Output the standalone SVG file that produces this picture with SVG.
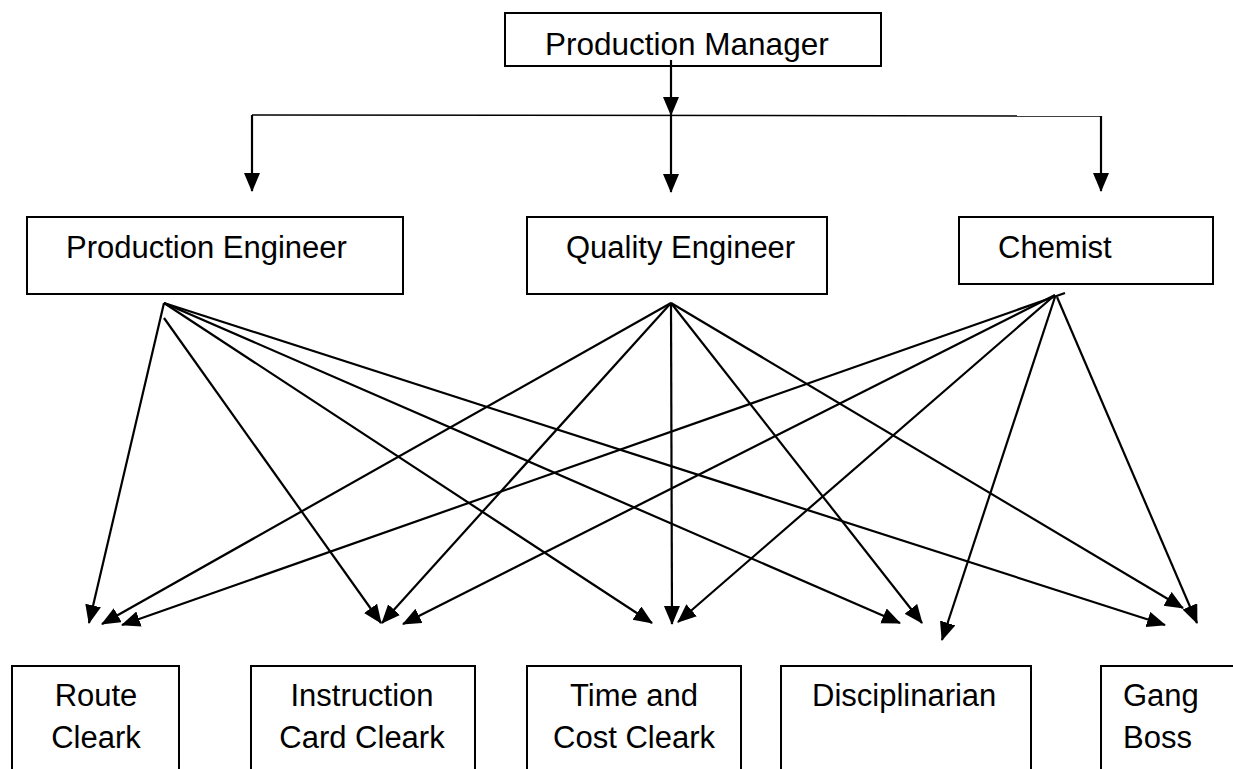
<svg xmlns="http://www.w3.org/2000/svg" width="1233" height="769" viewBox="0 0 1233 769">
<style>
rect{fill:#fff;stroke:#000;stroke-width:2}
text{font-family:"Liberation Sans",Arial,sans-serif;font-size:31px;fill:#000}
.c line{stroke:#000;stroke-width:2.2}
.c line.a{marker-end:url(#ah)}
</style>
<defs>
<marker id="ah" markerUnits="userSpaceOnUse" markerWidth="20" markerHeight="18" viewBox="0 0 20 18" refX="18" refY="8" orient="auto">
<path d="M0,0 L19,8 L0,16 z" fill="#000"/>
</marker>
</defs>
<g id="pm"><rect x="505" y="13" width="376" height="53"/><text x="545" y="55" style="font-size:31.5px">Production Manager</text></g>
<g id="pe"><rect x="27" y="217" width="376" height="77"/><text x="66" y="258">Production Engineer</text></g>
<g id="qe"><rect x="527" y="217" width="300" height="77"/><text x="566" y="258">Quality Engineer</text></g>
<g id="ch"><rect x="959" y="217" width="254" height="67"/><text x="998" y="258">Chemist</text></g>
<g id="route"><rect x="12" y="666" width="167" height="120"/><text x="96" y="706" text-anchor="middle">Route</text><text x="96" y="748" text-anchor="middle">Cleark</text></g>
<g id="instr"><rect x="251" y="666" width="224" height="120"/><text x="362" y="706" text-anchor="middle">Instruction</text><text x="362" y="748" text-anchor="middle">Card Cleark</text></g>
<g id="time"><rect x="527" y="666" width="214" height="120"/><text x="634" y="706" text-anchor="middle">Time and</text><text x="634" y="748" text-anchor="middle">Cost Cleark</text></g>
<g id="disc"><rect x="781" y="666" width="250" height="120"/><text x="812" y="706">Disciplinarian</text></g>
<g id="gang"><rect x="1101" y="666" width="160" height="120"/><text x="1123" y="706">Gang</text><text x="1123" y="748">Boss</text></g>
<g class="c" id="connectors">
<line class="a" x1="671" y1="60" x2="671" y2="115"/>
<line x1="252" y1="115" x2="1101" y2="116" style="stroke-width:1.5"/>
<line class="a" x1="252" y1="115" x2="252" y2="191"/>
<line class="a" x1="671" y1="115" x2="671" y2="192"/>
<line class="a" x1="1101" y1="116" x2="1101" y2="191"/>
<line class="a" x1="164" y1="303" x2="89" y2="623"/>
<line class="a" x1="164" y1="318" x2="381" y2="623"/>
<line class="a" x1="164" y1="303" x2="652" y2="623"/>
<line class="a" x1="164" y1="303" x2="900" y2="623"/>
<line class="a" x1="164" y1="303" x2="1165" y2="625"/>
<line class="a" x1="671" y1="303" x2="102" y2="624"/>
<line class="a" x1="671" y1="303" x2="382" y2="623"/>
<line class="a" x1="671" y1="303" x2="672" y2="624"/>
<line class="a" x1="671" y1="303" x2="922" y2="623"/>
<line class="a" x1="671" y1="303" x2="1183" y2="608"/>
<line class="a" x1="1065" y1="293" x2="122" y2="625"/>
<line class="a" x1="1055" y1="295" x2="403" y2="624"/>
<line class="a" x1="1055" y1="295" x2="678" y2="622"/>
<line class="a" x1="1055" y1="297" x2="942" y2="640"/>
<line class="a" x1="1057" y1="297" x2="1197" y2="623"/>
</g>
</svg>
